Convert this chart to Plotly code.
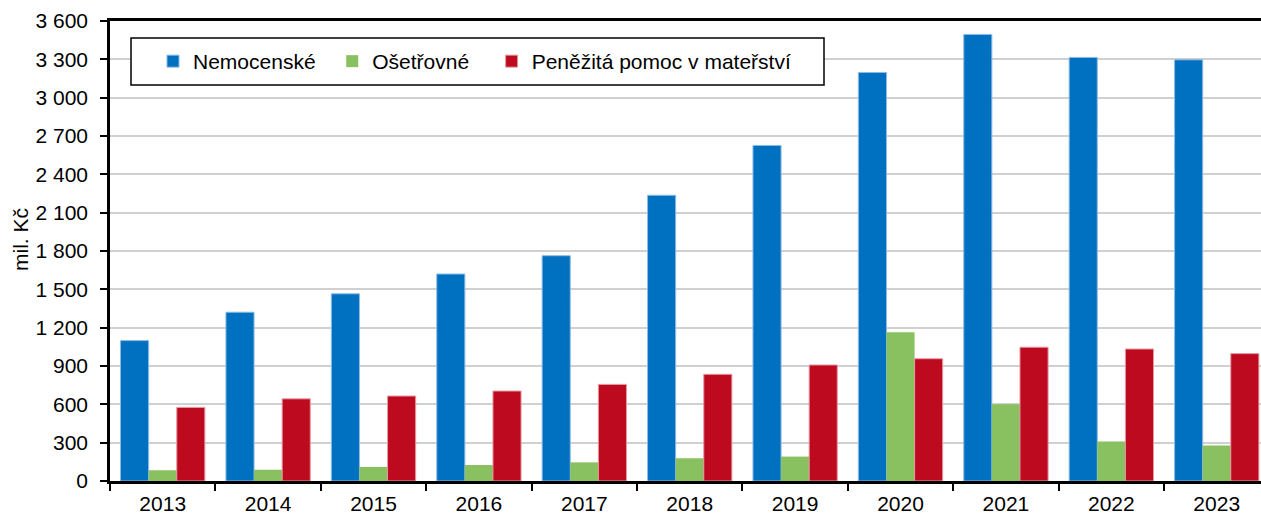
import plotly.graph_objects as go

years = ["2013", "2014", "2015", "2016", "2017", "2018", "2019", "2020", "2021", "2022", "2023"]
nemocenske = [1099, 1321, 1465, 1620, 1763, 2236, 2626, 3197, 3495, 3315, 3296]
osetrovne = [84, 88, 110, 125, 146, 178, 191, 1164, 600, 310, 277]
penezita = [576, 643, 665, 704, 756, 835, 908, 957, 1047, 1033, 997]
y_ticks = [0, 300, 600, 900, 1200, 1500, 1800, 2100, 2400, 2700, 3000, 3300, 3600]
y_tick_labels = ["0", "300", "600", "900", "1 200", "1 500", "1 800", "2 100", "2 400", "2 700", "3 000", "3 300", "3 600"]

FONT = "Liberation Sans, Arial, sans-serif"
FS = 21
NB = "\u00a0"

# plot-area geometry in pixels
L, T, B, W, H = 110, 21, 32, 1261, 513
PW, PH = W - L, H - T - B


def px_x(x):
    return (x - L) / PW


def px_y(y):
    return (H - B - y) / PH


fig = go.Figure()
fig.add_trace(go.Bar(x=years, y=nemocenske, name="Nemocenské" + NB * 2,
                     marker=dict(color="#0070C0", line=dict(color="#8DBBE3", width=1))))
fig.add_trace(go.Bar(x=years, y=osetrovne, name="Ošetřovné" + NB * 3,
                     marker=dict(color="#89C060", line=dict(width=0))))
fig.add_trace(go.Bar(x=years, y=penezita, name="Peněžitá pomoc v mateřství",
                     marker=dict(color="#BE0A1E", line=dict(color="#E49AA3", width=1))))

fig.update_layout(
    width=W, height=H,
    margin=dict(l=L, r=0, t=T, b=B, autoexpand=False),
    paper_bgcolor="white", plot_bgcolor="white",
    barmode="group", bargap=0.2, bargroupgap=0,
    font=dict(family=FONT, size=FS, color="black"),
    showlegend=True,
    legend=dict(orientation="h", x=px_x(153), y=px_y(61.5),
                xanchor="left", yanchor="middle",
                borderwidth=0, bgcolor="rgba(0,0,0,0)",
                font=dict(family=FONT, size=FS, color="black"),
                traceorder="normal"),
    xaxis=dict(type="category", range=[-0.5, 10.42],
               showline=True, linecolor="black", linewidth=2.5, mirror=True,
               ticks="outside", tickson="boundaries", ticklen=7, tickwidth=2, tickcolor="black",
               showgrid=False, automargin=False, ticklabelstandoff=2,
               tickfont=dict(family=FONT, size=FS, color="black")),
    yaxis=dict(range=[0, 3600], tickvals=y_ticks, ticktext=y_tick_labels,
               showline=True, linecolor="black", linewidth=2.5,
               ticks="outside", ticklen=7, tickwidth=2, tickcolor="black",
               showgrid=True, gridcolor="#D0D0D0", gridwidth=1.5,
               zeroline=False, automargin=False, ticklabelstandoff=8,
               tickfont=dict(family=FONT, size=FS, color="black")),
    shapes=[dict(type="rect", xref="paper", yref="paper",
                 x0=px_x(131), x1=px_x(824), y0=px_y(38), y1=px_y(85),
                 line=dict(color="black", width=1.5), fillcolor="white", layer="above")],
    annotations=[dict(text="mil. Kč", xref="paper", yref="paper",
                      x=px_x(20), y=px_y(240),
                      xanchor="center", yanchor="middle", textangle=-90,
                      showarrow=False, font=dict(family=FONT, size=FS, color="black"))],
)

fig.write_html("out.html", config={"displayModeBar": False},
               post_script="document.body.style.margin='0px';document.body.style.overflow='hidden';")
